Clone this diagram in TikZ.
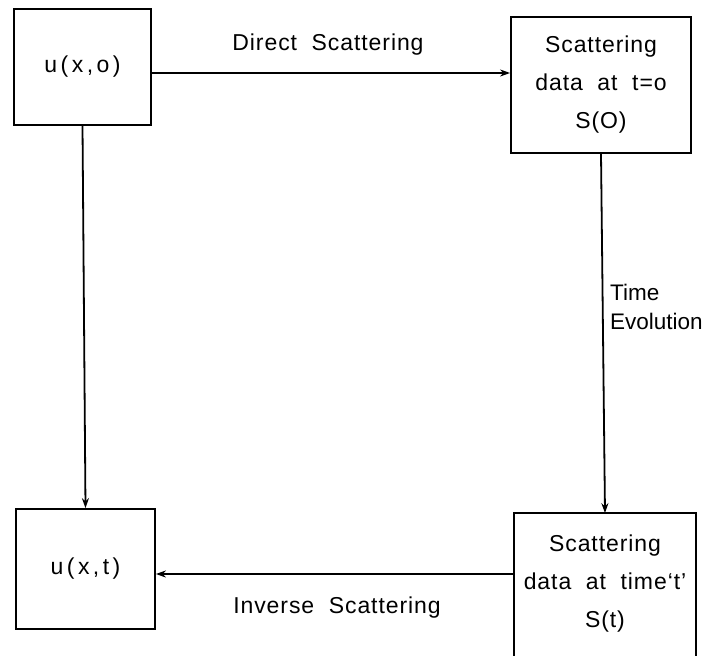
\documentclass[tikz,border=0pt]{standalone}
\usepackage{fontspec}
\setmainfont{Liberation Sans}[LetterSpace=4,WordSpace=2]
\newfontfamily\widefont{Liberation Sans}[LetterSpace=15]
\newfontfamily\plainfont{Liberation Sans}
\usetikzlibrary{arrows.meta}

\begin{document}
\begin{tikzpicture}[x=1pt,y=-1pt,
  box/.style={draw,line width=1.8pt,inner sep=0pt,align=center,font=\fontsize{23}{38}\selectfont},
  flow/.style={line width=1.8pt,-{Stealth[length=10pt,width=7pt]}},
  lbl/.style={inner sep=0pt,align=left,font=\fontsize{23}{29}\selectfont}]
\clip (0,0) rectangle (703,655);
% the four boxes
\node[box,minimum width=137pt,minimum height=116pt,font=\fontsize{23}{38}\widefont] (uxo) at (82.5,67) {u(x,o)};
\node[box,minimum width=180pt,minimum height=136pt] (sdo) at (601,85) {Scattering\\data at t=o\\S(O)};
\node[box,minimum width=139pt,minimum height=120pt,font=\fontsize{23}{38}\widefont] (uxt) at (85.5,569) {u(x,t)};
\node[box,draw=none,minimum width=180pt,minimum height=140pt] (sdt) at (605,584) {Scattering\\data at time`t'\\S(t)};
\draw[line width=1.8pt] ([yshift=-20pt]sdt.south west) -- (sdt.north west) -- (sdt.north east) -- ([yshift=-20pt]sdt.south east);
% labels
\node[lbl] (direct) at (328,45) {Direct Scattering};
\node[lbl] (inverse) at (337,608) {Inverse Scattering};
\node[lbl,anchor=west,font=\fontsize{22.5}{29}\plainfont] (evol) at (610,307) {Time\\Evolution};
% arrows
\draw[flow] ([yshift=-6pt]uxo.east) -- ([yshift=-6pt]uxo.east -| sdo.west);
\draw[flow] (sdo.south) -- (sdt.north);
\draw[flow] ([yshift=-5pt]uxt.east -| sdt.west) -- ([yshift=-5pt]uxt.east);
\draw[flow] (uxo.south) -- (uxt.north);
\end{tikzpicture}
\end{document}
